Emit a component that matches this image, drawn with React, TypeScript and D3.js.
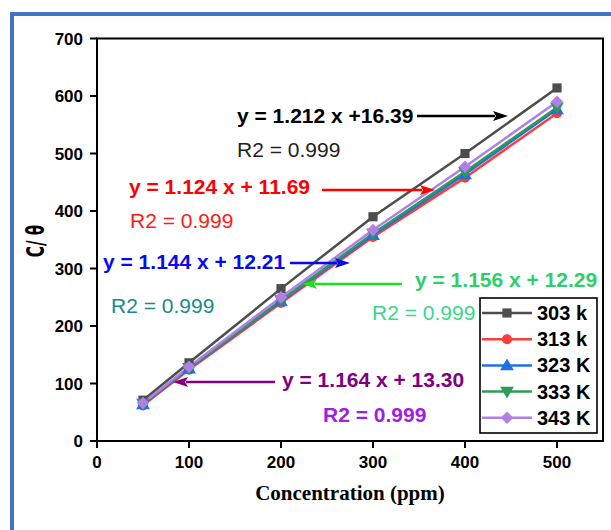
import React from "react";
import * as d3 from "d3";

// concentration (ppm) on the x axis
const concentrations = [50, 100, 200, 300, 400, 500];
// C/θ for each temperature
const series303 = [71, 136, 265, 390, 500, 614];
const series313 = [62, 124, 240, 355, 458, 570];
const series323 = [64, 126, 243, 358, 464, 577];
const series333 = [65, 127, 245, 361, 468, 580];
const series343 = [66, 129, 250, 367, 477, 590];
const seriesNames = ["303 k", "313 k", "323 K", "333 K", "343 K"];
const xTicks = [0, 100, 200, 300, 400, 500];
const yTicks = [0, 100, 200, 300, 400, 500, 600, 700];

const equations = [
  "y = 1.212 x +16.39",
  "y = 1.124 x + 11.69",
  "y = 1.144 x + 12.21",
  "y = 1.156 x + 12.29",
  "y = 1.164 x + 13.30",
];
const r2Labels = ["R2 = 0.999", "R2 = 0.999", "R2 = 0.999", "R2 = 0.999", "R2 = 0.999"];

const W = 611;
const H = 530;
const left = 97;
const right = 603;
const top = 38.5;
const bottom = 441;

const colors = ["#4d4d4d", "#ff3b3b", "#1f6fe5", "#2e9b57", "#b27fe6"];
const symbols = ["square", "circle", "triangle", "triangleDown", "diamond"];

// annotation layout (pixels): equation, R2, arrow from -> to
const notes = [
  { ex: 237, ey: 123, eColor: "#000000", rx: 237, ry: 157, rColor: "#222222", rBold: false, ax1: 417, ax2: 508, ay: 116, aColor: "#000000" },
  { ex: 129, ey: 194, eColor: "#ff0000", rx: 130, ry: 228, rColor: "#ff1a1a", rBold: false, ax1: 322, ax2: 435, ay: 190, aColor: "#ff0000" },
  { ex: 103, ey: 269, eColor: "#0a0af0", rx: 111, ry: 313, rColor: "#1a8a8a", rBold: false, ax1: 290, ax2: 350, ay: 263, aColor: "#0a0af0" },
  { ex: 415, ey: 287, eColor: "#2dcf6c", rx: 372, ry: 320, rColor: "#3ad88a", rBold: false, ax1: 402, ax2: 302, ay: 284, aColor: "#1ee01e" },
  { ex: 282, ey: 387, eColor: "#800080", rx: 323, ry: 422, rColor: "#a020e0", rBold: true, ax1: 275, ax2: 173, ay: 382, aColor: "#800080" },
];

function marker(kind: string, color: string, x: number, y: number, key: string) {
  if (kind === "circle") {
    return <path key={key} d={d3.symbol().type(d3.symbolCircle).size(80)()!} transform={`translate(${x},${y})`} fill={color} />;
  }
  if (kind === "square") {
    return <path key={key} d={d3.symbol().type(d3.symbolSquare).size(84)()!} transform={`translate(${x},${y})`} fill={color} />;
  }
  if (kind === "triangle") {
    return <path key={key} d={d3.symbol().type(d3.symbolTriangle).size(82)()!} transform={`translate(${x},${y + 1})`} fill={color} />;
  }
  if (kind === "triangleDown") {
    return <path key={key} d={d3.symbol().type(d3.symbolTriangle).size(82)()!} transform={`translate(${x},${y - 1}) rotate(180)`} fill={color} />;
  }
  return <path key={key} d={d3.symbol().type(d3.symbolSquare).size(78)()!} transform={`translate(${x},${y}) rotate(45)`} fill={color} />;
}

function Arrow({ x1, x2, y, color }: { x1: number; x2: number; y: number; color: string }) {
  const dir = x2 > x1 ? 1 : -1;
  const len = 15;
  const half = 5;
  const base = x2 - dir * len;
  return (
    <g>
      <line x1={x1} y1={y} x2={base + dir * 2} y2={y} stroke={color} strokeWidth={2.6} />
      <path d={`M${x2},${y} L${base},${y - half} L${base + dir * 3},${y} L${base},${y + half} Z`} fill={color} />
    </g>
  );
}

export default function App() {
  const x = d3.scaleLinear().domain([0, 550]).range([left, right]);
  const y = d3.scaleLinear().domain([0, 700]).range([bottom, top]);
  const allSeries = [series303, series313, series323, series333, series343];
  const line = d3
    .line<number>()
    .x((_, i) => x(concentrations[i]))
    .y((d) => y(d));

  const legendX = 480;
  const legendY = 298;
  const rowH = 26.2;

  return (
    <svg width={W} height={H} style={{ position: "absolute", left: 0, top: 0, background: "#fff" }}>
      <rect x={0} y={0} width={W} height={H} fill="#ffffff" />
      <rect x={12} y={14} width={W + 40} height={H + 40} fill="none" stroke="#4472c4" strokeWidth={4} />

      {/* series */}
      {allSeries.map((s, k) => (
        <path key={"l" + k} d={line(s)!} fill="none" stroke={colors[k]} strokeWidth={2.5} />
      ))}
      {allSeries.map((s, k) => s.map((v, i) => marker(symbols[k], colors[k], x(concentrations[i]), y(v), `m${k}-${i}`)))}

      {/* frame */}
      <rect x={left} y={top} width={right - left} height={bottom - top} fill="none" stroke="#000" strokeWidth={2} />

      {/* y axis */}
      {yTicks.map((t) => (
        <g key={"y" + t}>
          <line x1={left - 7} x2={left} y1={y(t)} y2={y(t)} stroke="#000" strokeWidth={2} />
          <text x={left - 14} y={y(t) + 6} textAnchor="end" fontFamily="Arial, 'Liberation Sans', sans-serif" fontWeight="bold" fontSize={17} fill="#000">
            {t}
          </text>
        </g>
      ))}
      {/* x axis */}
      {xTicks.map((t) => (
        <g key={"x" + t}>
          <line x1={x(t)} x2={x(t)} y1={bottom} y2={bottom + 7} stroke="#000" strokeWidth={2} />
          <text x={x(t)} y={bottom + 27} textAnchor="middle" fontFamily="Arial, 'Liberation Sans', sans-serif" fontWeight="bold" fontSize={17} fill="#000">
            {t}
          </text>
        </g>
      ))}

      <text x={(left + right) / 2} y={500} textAnchor="middle" fontFamily="'Times New Roman', 'Liberation Serif', serif" fontWeight="bold" fontSize={21} fill="#000">
        Concentration (ppm)
      </text>
      <text
        transform={`translate(44,241) rotate(-90) scale(0.8,1.15)`}
        textAnchor="middle"
        fontFamily="'Liberation Sans Narrow', 'DejaVu Sans Condensed', Arial, sans-serif"
        fontWeight="bold"
        fontSize={21}
        fill="#000"
      >
        C/ θ
      </text>

      {/* annotations */}
      {notes.map((n, k) => (
        <g key={"n" + k}>
          <text x={n.ex} y={n.ey} fontFamily="Arial, 'Liberation Sans', sans-serif" fontWeight="bold" fontSize={21} fill={n.eColor}>
            {equations[k]}
          </text>
          <text x={n.rx} y={n.ry} fontFamily="Arial, 'Liberation Sans', sans-serif" fontWeight={n.rBold ? "bold" : "normal"} fontSize={21} fill={n.rColor}>
            {r2Labels[k]}
          </text>
          <Arrow x1={n.ax1} x2={n.ax2} y={n.ay} color={n.aColor} />
        </g>
      ))}

      {/* legend */}
      <rect x={legendX} y={legendY} width={117} height={135} fill="#fff" stroke="#000" strokeWidth={1.6} />
      {seriesNames.map((name, k) => {
        const cy = legendY + 15 + k * rowH;
        return (
          <g key={"lg" + k}>
            <line x1={legendX + 2} x2={legendX + 52} y1={cy} y2={cy} stroke={colors[k]} strokeWidth={2.5} />
            {marker(symbols[k], colors[k], legendX + 27, cy, "lm" + k)}
            <text x={legendX + 57} y={cy + 7} fontFamily="Arial, 'Liberation Sans', sans-serif" fontWeight="bold" fontSize={20} fill="#000">
              {name}
            </text>
          </g>
        );
      })}
    </svg>
  );
}
